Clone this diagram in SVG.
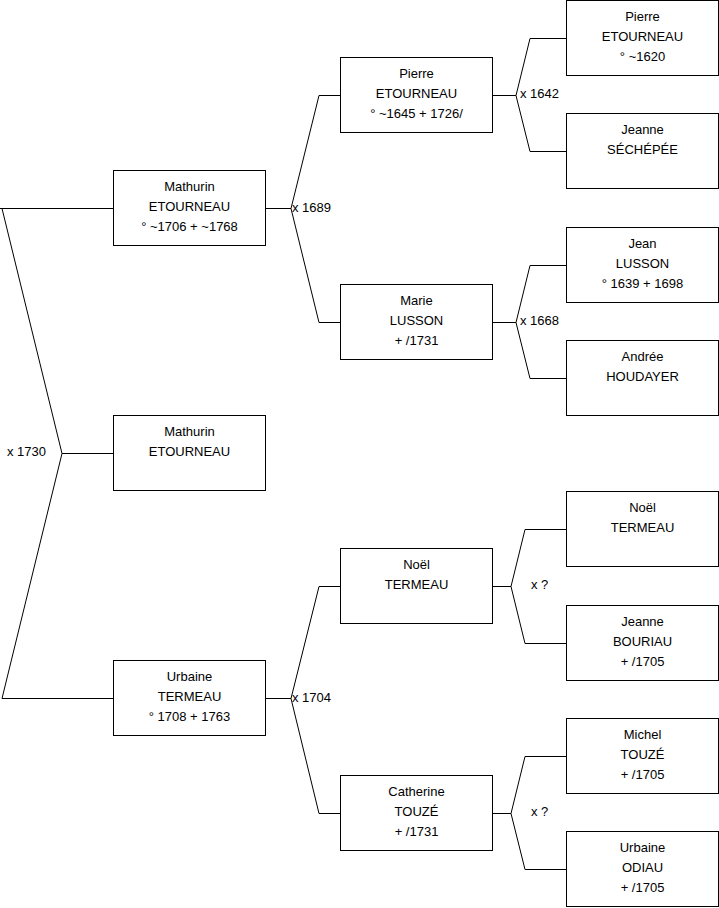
<svg xmlns="http://www.w3.org/2000/svg" width="719" height="908" viewBox="0 0 719 908">
<style>
.box rect{fill:#fff;stroke:#000;stroke-width:1}
text{font-family:"Liberation Sans",Arial,sans-serif;font-size:13px;fill:#000}
.box text{text-anchor:middle}
#connectors path{fill:none;stroke:#000;stroke-width:1}
</style>
<rect width="719" height="908" fill="#fff"/>
<g id="connectors">
<path d="M0,208.5H113.5M2,208.5L62,453.5M62,453.5H113.5M62,453.5L2,698.5M2,698.5H113.5"/>
<path d="M265.5,208.5H291L319,95.5H340.5M291,208.5L319,322.5H340.5"/>
<path d="M265.5,698.5H291L319,586.5H340.5M291,698.5L319,813.5H340.5"/>
<path d="M492.5,95.5H516L530,38.5H566.5M516,95.5L530,151.5H566.5"/>
<path d="M492.5,322.5H516L530,265.5H566.5M516,322.5L530,378.5H566.5"/>
<path d="M492.5,586.5H511L525,529.5H566.5M511,586.5L525,643.5H566.5"/>
<path d="M492.5,813.5H511L525,756.5H566.5M511,813.5L525,869.5H566.5"/>
<text x="7" y="456">x 1730</text>
<text x="292" y="211.5">x 1689</text>
<text x="292" y="702">x 1704</text>
<text x="520" y="98">x 1642</text>
<text x="520" y="325">x 1668</text>
<text x="531" y="589">x ?</text>
<text x="531" y="816">x ?</text>
</g>
<g id="n-mathurin-1706" class="box"><rect x="113.5" y="170.5" width="152" height="75"/><text x="189.5" y="191">Mathurin</text><text x="189.5" y="211">ETOURNEAU</text><text x="189.5" y="231">° ~1706 + ~1768</text></g>
<g id="n-mathurin" class="box"><rect x="113.5" y="415.5" width="152" height="75"/><text x="189.5" y="436">Mathurin</text><text x="189.5" y="456">ETOURNEAU</text></g>
<g id="n-urbaine-termeau" class="box"><rect x="113.5" y="660.5" width="152" height="75"/><text x="189.5" y="681">Urbaine</text><text x="189.5" y="701">TERMEAU</text><text x="189.5" y="721">° 1708 + 1763</text></g>
<g id="n-pierre-1645" class="box"><rect x="340.5" y="57.5" width="152" height="75"/><text x="416.5" y="78">Pierre</text><text x="416.5" y="98">ETOURNEAU</text><text x="416.5" y="118">° ~1645 + 1726/</text></g>
<g id="n-marie-lusson" class="box"><rect x="340.5" y="284.5" width="152" height="75"/><text x="416.5" y="305">Marie</text><text x="416.5" y="325">LUSSON</text><text x="416.5" y="345">+ /1731</text></g>
<g id="n-noel-termeau-2" class="box"><rect x="340.5" y="548.5" width="152" height="75"/><text x="416.5" y="569">Noël</text><text x="416.5" y="589">TERMEAU</text></g>
<g id="n-catherine-touze" class="box"><rect x="340.5" y="775.5" width="152" height="75"/><text x="416.5" y="796">Catherine</text><text x="416.5" y="816">TOUZÉ</text><text x="416.5" y="836">+ /1731</text></g>
<g id="n-pierre-1620" class="box"><rect x="566.5" y="0.5" width="152" height="75"/><text x="642.5" y="21">Pierre</text><text x="642.5" y="41">ETOURNEAU</text><text x="642.5" y="61">° ~1620</text></g>
<g id="n-jeanne-sechepee" class="box"><rect x="566.5" y="113.5" width="152" height="75"/><text x="642.5" y="134">Jeanne</text><text x="642.5" y="154">SÉCHÉPÉE</text></g>
<g id="n-jean-lusson" class="box"><rect x="566.5" y="227.5" width="152" height="75"/><text x="642.5" y="248">Jean</text><text x="642.5" y="268">LUSSON</text><text x="642.5" y="288">° 1639 + 1698</text></g>
<g id="n-andree-houdayer" class="box"><rect x="566.5" y="340.5" width="152" height="75"/><text x="642.5" y="361">Andrée</text><text x="642.5" y="381">HOUDAYER</text></g>
<g id="n-noel-termeau-3" class="box"><rect x="566.5" y="491.5" width="152" height="75"/><text x="642.5" y="512">Noël</text><text x="642.5" y="532">TERMEAU</text></g>
<g id="n-jeanne-bouriau" class="box"><rect x="566.5" y="605.5" width="152" height="75"/><text x="642.5" y="626">Jeanne</text><text x="642.5" y="646">BOURIAU</text><text x="642.5" y="666">+ /1705</text></g>
<g id="n-michel-touze" class="box"><rect x="566.5" y="718.5" width="152" height="75"/><text x="642.5" y="739">Michel</text><text x="642.5" y="759">TOUZÉ</text><text x="642.5" y="779">+ /1705</text></g>
<g id="n-urbaine-odiau" class="box"><rect x="566.5" y="831.5" width="152" height="75"/><text x="642.5" y="852">Urbaine</text><text x="642.5" y="872">ODIAU</text><text x="642.5" y="892">+ /1705</text></g>
</svg>
